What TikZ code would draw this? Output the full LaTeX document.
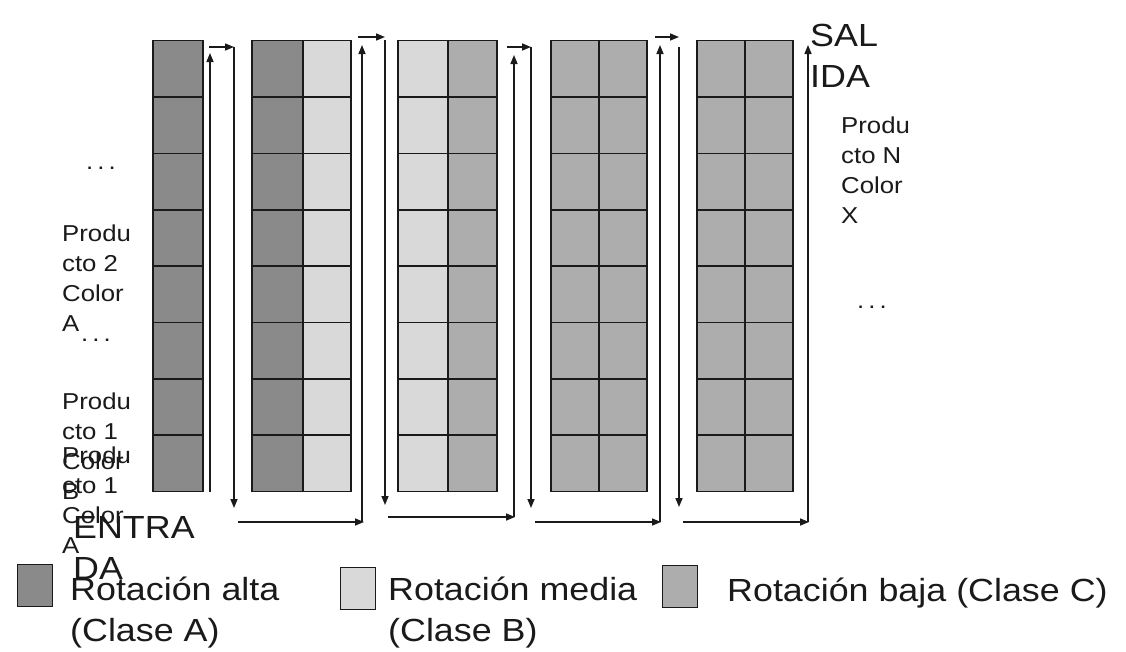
\documentclass[tikz,border=0pt]{standalone}
\usepackage{fontspec}
\setmainfont{Liberation Sans}[FakeStretch=1.12]
\usetikzlibrary{arrows.meta}
\definecolor{clsA}{HTML}{8A8A8A}
\definecolor{clsB}{HTML}{D9D9D9}
\definecolor{clsC}{HTML}{ADADAD}
\definecolor{ink}{HTML}{1A1A1A}
\begin{document}
\begin{tikzpicture}[x=1pt,y=-1pt,
  cell/.style={draw=ink,line width=1.5pt},
  flow/.style={draw=ink,line width=1.5pt,-{Triangle[length=9pt,width=7pt]}},
  small/.style={inner sep=0pt,anchor=base west,align=left,font=\fontsize{23}{30}\selectfont,text=ink},
  big/.style={inner sep=0pt,anchor=base west,align=left,font=\fontsize{32}{41}\selectfont,text=ink},
  key/.style={draw=ink,line width=1.2pt,minimum width=35pt,minimum height=42pt,inner sep=0pt,anchor=north west}]
\useasboundingbox (0,0) rectangle (1126,651);
\fill[white] (0,0) rectangle (1126,651);

% racks
\foreach \xa/\xb/\cl in {153/203/clsA, 252/303/clsA, 303/351/clsB, 398/448/clsB, 448/497/clsC, 551/599/clsC, 599/647/clsC, 697/745/clsC, 745/793/clsC}
  \foreach \i in {0,...,7}
    \draw[cell,fill=\cl] (\xa,{40.7+56.35*\i}) rectangle (\xb,{40.7+56.35*(\i+1)});

% flow coordinates
\coordinate (u1s) at (210,492); \coordinate (u1e) at (210,53);
\coordinate (t1s) at (209,47);  \coordinate (t1e) at (234,47);
\coordinate (d1s) at (234,47);  \coordinate (d1e) at (234,508);
\coordinate (b1s) at (238,522); \coordinate (b1e) at (364,522);
\coordinate (u2s) at (362,522); \coordinate (u2e) at (362,45);
\coordinate (t2s) at (358,37);  \coordinate (t2e) at (385,37);
\coordinate (d2s) at (385,40);  \coordinate (d2e) at (385,505);
\coordinate (b2s) at (388,517); \coordinate (b2e) at (515,517);
\coordinate (u3s) at (514,517); \coordinate (u3e) at (514,55);
\coordinate (t3s) at (507,47);  \coordinate (t3e) at (531,47);
\coordinate (d3s) at (531,47);  \coordinate (d3e) at (531,508);
\coordinate (b3s) at (535,522); \coordinate (b3e) at (661,522);
\coordinate (u4s) at (660,522); \coordinate (u4e) at (660,45);
\coordinate (t4s) at (655,37);  \coordinate (t4e) at (679,37);
\coordinate (d4s) at (679,47);  \coordinate (d4e) at (679,507);
\coordinate (b4s) at (683,522); \coordinate (b4e) at (809,522);
\coordinate (u5s) at (808,522); \coordinate (u5e) at (808,45);

\draw[flow] (u1s) -- (u1e);
\draw[flow] (t1s) -- (t1e);
\draw[flow] (d1s) -- (d1e);
\draw[flow] (b1s) -- (b1e);
\draw[flow] (u2s) -- (u2e);
\draw[flow] (t2s) -- (t2e);
\draw[flow] (d2s) -- (d2e);
\draw[flow] (b2s) -- (b2e);
\draw[flow] (u3s) -- (u3e);
\draw[flow] (t3s) -- (t3e);
\draw[flow] (d3s) -- (d3e);
\draw[flow] (b3s) -- (b3e);
\draw[flow] (u4s) -- (u4e);
\draw[flow] (t4s) -- (t4e);
\draw[flow] (d4s) -- (d4e);
\draw[flow] (b4s) -- (b4e);
\draw[flow] (u5s) -- (u5e);

% texts (anchor = baseline of the last line)
\node[big] (sal) at (810,87) {SAL\\IDA};
\node[small] (pN) at (841,223) {Produ\\cto N\\Color\\X};
\node[small] (dR) at (857,308) {.\kern4pt.\kern4pt.};
\node[small] (dL) at (86,169) {.\kern4pt.\kern4pt.};
\node[small] (p2) at (62,331) {Produ\\cto 2\\Color\\A};
\node[small] (dA) at (81,341) {.\kern4pt.\kern4pt.};
\node[small] (p1b) at (62,499) {Produ\\cto 1\\Color\\B};
\node[small] (p1a) at (62,553) {Produ\\cto 1\\Color\\A};
\node[big] (ent) at (73,579) {ENTRA\\DA};

% legend
\node[key,fill=clsA] (kA) at (17,564) {};
\node[big] (lA) at (70,641) {Rotación alta\\(Clase A)};
\node[key,fill=clsB] (kB) at (340,567) {};
\node[big] (lB) at (388,641) {Rotación media\\(Clase B)};
\node[key,fill=clsC] (kC) at (662,565) {};
\node[big] (lC) at (727,601) {Rotación baja (Clase C)};
\end{tikzpicture}
\end{document}
